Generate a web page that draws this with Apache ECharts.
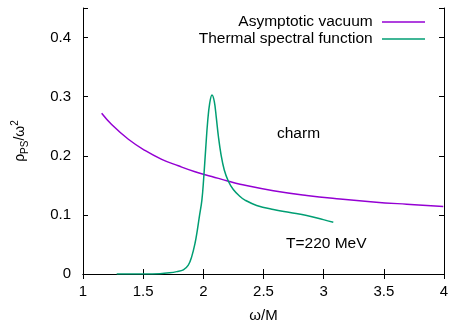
<!DOCTYPE html>
<html>
<head>
<meta charset="utf-8">
<script src="https://cdn.jsdelivr.net/npm/echarts@6/dist/echarts.min.js"></script>
<style>
  html, body { margin: 0; padding: 0; background: #fff; }
  #chart { width: 451px; height: 320px; }
</style>
</head>
<body>
<div id="chart"></div>
<script>
// asymptotic vacuum curve (omega/M, rho/omega^2)
const vacX = [1.155, 1.238, 1.377, 1.515, 1.654, 1.792, 1.931, 2.07, 2.208, 2.305, 2.582, 2.859, 3.136, 3.413, 3.69, 3.994];
const vacY = [0.272, 0.253, 0.228, 0.209, 0.194, 0.183, 0.173, 0.165, 0.157, 0.152, 0.141, 0.133, 0.127, 0.122, 0.118, 0.114];

// thermal spectral function, T = 220 MeV
const thX = [1.28, 1.5, 1.64, 1.72, 1.779, 1.834, 1.875, 1.903, 1.931, 1.95, 1.967, 1.988, 2.003, 2.02, 2.036, 2.053, 2.072, 2.091, 2.108, 2.125, 2.147, 2.174, 2.208, 2.249, 2.305, 2.346, 2.443, 2.582, 2.72, 2.859, 2.997, 3.08];
const thY = [0.0, 0.0, 0.0005, 0.002, 0.004, 0.007, 0.015, 0.029, 0.052, 0.074, 0.097, 0.125, 0.162, 0.213, 0.258, 0.289, 0.303, 0.292, 0.264, 0.233, 0.202, 0.176, 0.157, 0.143, 0.131, 0.125, 0.116, 0.109, 0.104, 0.099, 0.092, 0.0875];

const seriesNames = ['Asymptotic vacuum', 'Thermal spectral function'];
const xTicks = [1, 1.5, 2, 2.5, 3, 3.5, 4];
const yTicks = [0, 0.1, 0.2, 0.3, 0.4];

const font = 'Liberation Sans, Arial, sans-serif';
const fs = 15;
const pairs = (xs, ys) => xs.map((x, i) => [x, ys[i]]);

const chart = echarts.init(document.getElementById('chart'));

const tickStyle = { show: true, inside: true, length: 5, lineStyle: { color: '#000', width: 1 } };
const axisLine = { show: true, lineStyle: { color: '#000', width: 1 } };

chart.setOption({
  animation: false,
  backgroundColor: '#fff',
  grid: { left: 83, right: 7, top: 8, bottom: 46, containLabel: false, outerBoundsMode: 'none' },
  legend: {
    data: seriesNames,
    orient: 'vertical',
    right: 21,
    top: 9,
    align: 'right',
    icon: 'rect',
    itemWidth: 43,
    itemHeight: 1.5,
    itemGap: 1,
    formatter: name => name + ' ',
    textStyle: { fontFamily: font, fontSize: 15.5, lineHeight: 16, color: '#000' }
  },
  xAxis: [{
    type: 'value',
    min: 1, max: 4, interval: 0.5,
    name: 'ω/M',
    nameLocation: 'middle',
    nameGap: 34,
    nameTextStyle: { fontFamily: font, fontSize: fs, color: '#000' },
    axisLine: axisLine,
    axisTick: tickStyle,
    splitLine: { show: false },
    axisLabel: {
      fontFamily: font, fontSize: fs, color: '#000', margin: 10,
      formatter: v => xTicks.includes(v) ? String(v) : ''
    }
  }, {
    type: 'value', position: 'top',
    min: 1, max: 4, interval: 0.5,
    axisLine: axisLine, axisTick: tickStyle,
    axisLabel: { show: false }, splitLine: { show: false }
  }],
  yAxis: [{
    type: 'value',
    min: 0, max: 0.45, interval: 0.1,
    name: '{a|ρ}{s|PS}{a|/ω}{p|2}',
    nameLocation: 'middle',
    nameGap: 53,
    nameRotate: 90,
    nameTextStyle: {
      fontFamily: font, color: '#000',
      rich: {
        a: { fontFamily: font, fontSize: 14, color: '#000', lineHeight: 20, verticalAlign: 'middle' },
        s: { fontFamily: font, fontSize: 10, color: '#000', lineHeight: 9, verticalAlign: 'bottom' },
        p: { fontFamily: font, fontSize: 10, color: '#000', lineHeight: 9, verticalAlign: 'top' }
      }
    },
    axisLine: axisLine,
    axisTick: tickStyle,
    splitLine: { show: false },
    axisLabel: {
      fontFamily: font, fontSize: fs, color: '#000', margin: 12,
      formatter: v => {
        const hit = yTicks.find(t => Math.abs(t - v) < 1e-9);
        return hit === undefined ? '' : String(hit);
      }
    }
  }, {
    type: 'value', position: 'right',
    min: 0, max: 0.45, interval: 0.1,
    axisLine: axisLine, axisTick: tickStyle,
    axisLabel: { show: false }, splitLine: { show: false }
  }],
  graphic: [
    { type: 'text', left: 277, top: 126, style: { text: 'charm', fontFamily: font, fontSize: 15.5, fill: '#000' } },
    { type: 'text', left: 286, top: 236, style: { text: 'T=220 MeV', fontFamily: font, fontSize: 15.5, fill: '#000' } }
  ],
  series: [{
    name: seriesNames[0],
    type: 'line',
    smooth: 0.45,
    showSymbol: false,
    symbol: 'none',
    data: pairs(vacX, vacY),
    lineStyle: { color: '#9400d3', width: 1.5 },
    itemStyle: { color: '#9400d3' }
  }, {
    name: seriesNames[1],
    type: 'line',
    smooth: 0.4,
    showSymbol: false,
    symbol: 'none',
    data: pairs(thX, thY),
    lineStyle: { color: '#009e73', width: 1.5 },
    itemStyle: { color: '#009e73' }
  }]
});
</script>
</body>
</html>
